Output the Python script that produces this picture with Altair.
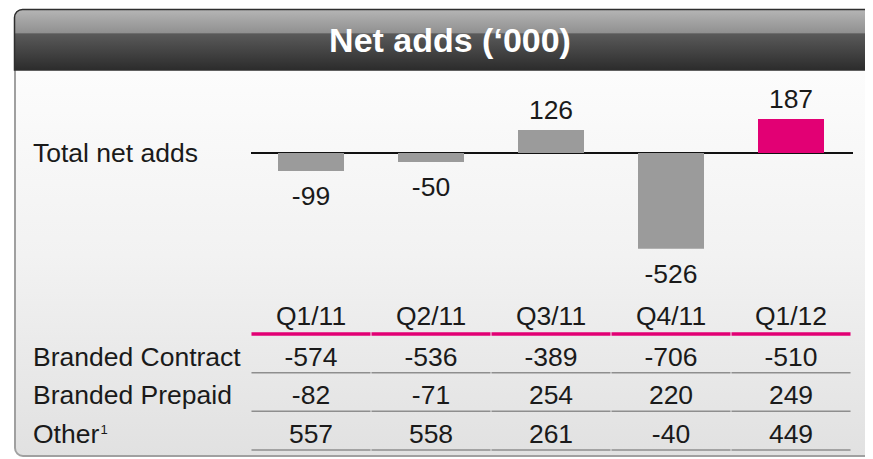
import altair as alt
import pandas as pd

# ---- data ----
quarters = ["Q1/11", "Q2/11", "Q3/11", "Q4/11", "Q1/12"]
total_net_adds = [-99, -50, 126, -526, 187]
branded_contract = [-574, -536, -389, -706, -510]
branded_prepaid = [-82, -71, 254, 220, 249]
other = [557, 558, 261, -40, 449]
row_labels = ["Branded Contract", "Branded Prepaid", "Other"]
title_text = "Net adds (\u2018000)"
total_label = "Total net adds"
footnote_mark = "1"

FONT = "Liberation Sans, Arial, sans-serif"
FS = 26.5
TXT = "#1a1a1a"
MAGENTA = "#e20074"
GREY_BAR = "#9b9b9b"

# ---- tables built from the arrays ----
bars_df = pd.DataFrame({
    "quarter": quarters,
    "value": total_net_adds,
    "kind": ["latest" if q == quarters[-1] else "past" for q in quarters],
})
bars_df["label"] = bars_df["value"].astype(str)

table_rows = []
for name, vals in zip(row_labels, [branded_contract, branded_prepaid, other]):
    for q, v in zip(quarters, vals):
        table_rows.append({"row": name, "quarter": q, "label": str(v)})
table_df = pd.DataFrame(table_rows)
header_df = pd.DataFrame({"row": ["hdr"] * len(quarters), "quarter": quarters})
rowlab_df = pd.DataFrame({"row": row_labels})

n = len(quarters)
seg_rows = []
for r in ["hdr"] + row_labels:
    for i in range(n):
        seg_rows.append({"row": r, "c0": i + 0.004, "c1": i + 1 - 0.004})
seg_df = pd.DataFrame(seg_rows)
one = pd.DataFrame({"a": [0]})

# ---- scales ----
x_band = alt.Scale(domain=quarters, range=[251, 851], paddingInner=0.45, paddingOuter=0.225)
x_lin = alt.Scale(domain=[0, n], range=[251, 851])
y_val = alt.Scale(domain=[-600, 600], range=[262.2, 43.8])
y_row = alt.Scale(type="point", domain=["hdr"] + row_labels, range=[327, 443], padding=0)

# ---- decoration: panel and title band ----
body_grad = alt.LinearGradient(
    gradient="linear", x1=0, y1=0, x2=0, y2=1,
    stops=[alt.GradientStop(color="#fdfdfd", offset=0),
           alt.GradientStop(color="#fcfcfc", offset=0.14),
           alt.GradientStop(color="#f2f2f2", offset=0.55),
           alt.GradientStop(color="#e1e1e1", offset=1)])
title_grad = alt.LinearGradient(
    gradient="linear", x1=0, y1=0, x2=0, y2=1,
    stops=[alt.GradientStop(color="#b5b5b5", offset=0),
           alt.GradientStop(color="#909090", offset=0.39),
           alt.GradientStop(color="#5a5a5a", offset=0.4),
           alt.GradientStop(color="#2c2c2c", offset=1)])

panel = alt.Chart(one).mark_rect(
    fill=body_grad, stroke="#a0a0a0", strokeWidth=2,
    cornerRadiusTopLeft=8, cornerRadiusBottomLeft=8
).encode(x=alt.value(15), x2=alt.value(890), y=alt.value(10), y2=alt.value(456))

band = alt.Chart(one).mark_rect(
    fill=title_grad, stroke="#2e2e2e", strokeWidth=1.5, cornerRadiusTopLeft=8
).encode(x=alt.value(14.5), x2=alt.value(890), y=alt.value(9.5), y2=alt.value(70))

title = alt.Chart(one).mark_text(
    text=title_text, font="Liberation Sans", fontWeight="bold", fontSize=34,
    color="white", align="center", baseline="middle"
).encode(x=alt.value(450), y=alt.value(42))

# ---- bar chart ----
zero_rule = alt.Chart(one).mark_rule(color="#111111", strokeWidth=2).encode(
    x=alt.value(251), x2=alt.value(853),
    y=alt.YDatum(0, type="quantitative", scale=y_val, axis=None))

total_lab = alt.Chart(one).mark_text(
    text=total_label, font=FONT, fontSize=FS, color=TXT, align="left",
    baseline="alphabetic", dy=9
).encode(x=alt.value(33), y=alt.YDatum(0, type="quantitative", scale=y_val, axis=None))

bars = alt.Chart(bars_df).mark_bar().encode(
    x=alt.X("quarter:N", scale=x_band, axis=None, sort=quarters),
    y=alt.Y("value:Q", scale=y_val, axis=None),
    color=alt.Color("kind:N", scale=alt.Scale(domain=["past", "latest"], range=[GREY_BAR, MAGENTA]), legend=None),
)

lab_pos = alt.Chart(bars_df).transform_filter("datum.value >= 0").mark_text(
    font=FONT, fontSize=FS, color=TXT, align="center", baseline="alphabetic", dy=-11
).encode(
    x=alt.X("quarter:N", scale=x_band, axis=None, sort=quarters),
    y=alt.Y("value:Q", scale=y_val, axis=None),
    text="label:N")

lab_neg = alt.Chart(bars_df).transform_filter("datum.value < 0").mark_text(
    font=FONT, fontSize=FS, color=TXT, align="center", baseline="alphabetic", dy=34
).encode(
    x=alt.X("quarter:N", scale=x_band, axis=None, sort=quarters),
    y=alt.Y("value:Q", scale=y_val, axis=None),
    text="label:N")

# ---- table ----
header = alt.Chart(header_df).mark_text(
    font=FONT, fontSize=FS, color=TXT, align="center", baseline="alphabetic", dy=-2
).encode(
    x=alt.X("quarter:N", scale=x_band, axis=None, sort=quarters),
    y=alt.Y("row:N", scale=y_row, axis=None),
    text="quarter:N")

cells = alt.Chart(table_df).mark_text(
    font=FONT, fontSize=FS, color=TXT, align="center", baseline="alphabetic"
).encode(
    x=alt.X("quarter:N", scale=x_band, axis=None, sort=quarters),
    y=alt.Y("row:N", scale=y_row, axis=None),
    text="label:N")

rowlabs = alt.Chart(rowlab_df).mark_text(
    font=FONT, fontSize=FS, color=TXT, align="left", baseline="alphabetic"
).encode(x=alt.value(33), y=alt.Y("row:N", scale=y_row, axis=None), text="row:N")

sup = alt.Chart(pd.DataFrame({"row": [row_labels[-1]], "t": [footnote_mark]})).mark_text(
    font=FONT, fontSize=13, color=TXT, align="left", baseline="alphabetic", dy=-9
).encode(x=alt.value(100.5), y=alt.Y("row:N", scale=y_row, axis=None), text="t:N")

pink = alt.Chart(seg_df).transform_filter("datum.row == 'hdr'").mark_rule(
    color=MAGENTA, strokeWidth=3.5, yOffset=7
).encode(
    x=alt.X("c0:Q", scale=x_lin, axis=None), x2="c1:Q",
    y=alt.Y("row:N", scale=y_row, axis=None))

grey = alt.Chart(seg_df).transform_filter("datum.row != 'hdr'").mark_rule(
    color="#8e8e8e", strokeWidth=1.5, yOffset=7
).encode(
    x=alt.X("c0:Q", scale=x_lin, axis=None), x2="c1:Q",
    y=alt.Y("row:N", scale=y_row, axis=None))

chart = alt.layer(
    panel, band, title, zero_rule, total_lab, bars, lab_pos, lab_neg,
    pink, grey, header, cells, rowlabs, sup
).resolve_scale(
    x="independent", y="independent", color="independent"
).properties(
    width=865, height=459,
    padding={"left": -8, "top": -8, "right": 0, "bottom": 0},
    autosize=alt.AutoSizeParams(type="none"),
    background="white",
).configure_view(stroke=None)

chart.save("out.html", embed_options={"renderer": "svg", "actions": False})
